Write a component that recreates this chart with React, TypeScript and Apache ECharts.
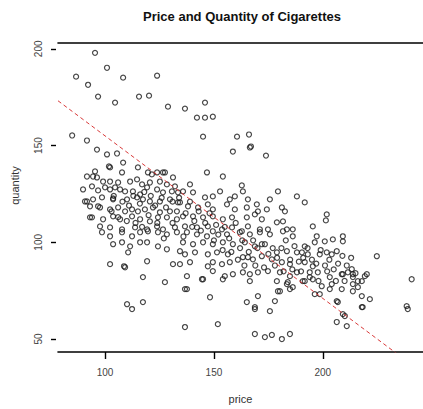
import React, { useEffect, useRef } from "react";
import * as echarts from "echarts";

const chartTitle = "Price and Quantity of Cigarettes";
const xName = "price";
const yName = "quantity";
const xTicks = [100, 150, 200];
const yTicks = [50, 100, 150, 200];
const xRange = [78.4, 246];
const yRange = [43.3, 203];
// fitted line: quantity = intercept + slope * price
const intercept = 239;
const slope = -0.84;

// [price, quantity]
const upperPoints = [
  [95.4, 197.9], [100.9, 190.2], [86.7, 185.6], [92.2, 181.4], [108.3, 185.1], [123.9, 186.1],
  [96.8, 175.3], [104.6, 172.2], [115.6, 175.3], [120.2, 175.8], [128.9, 170.1], [136.7, 169.1],
  [145.9, 172.2], [142.2, 164.4], [145.9, 164.4], [149.5, 164.9], [145.0, 154.6], [160.6, 154.6],
  [166.1, 155.7], [84.9, 155.2], [91.7, 152.6], [158.7, 146.9], [167.0, 149.5], [173.9, 144.8],
  [100.9, 145.4], [105.5, 145.9], [96.3, 147.9], [95.4, 136.6], [102.3, 138.7], [108.3, 141.2],
  [115.1, 138.7], [121.5, 135.1], [126.6, 136.1], [146.8, 136.1], [154.1, 134.0], [91.7, 134.0],
  [96.3, 133.5], [91.7, 121.1], [96.8, 118.6], [93.1, 112.9], [103.7, 122.2], [166.5, 149.0],
];

const leftCluster = [
  [101.8, 139.2], [107.8, 136.1], [119.7, 136.1], [123.9, 136.1], [127.5, 136.1], [131.2, 133.5],
  [94.5, 134.0], [99.1, 131.4], [102.3, 131.4], [106.0, 130.9], [111.5, 131.4], [114.7, 132.5],
  [117.0, 129.9], [120.6, 130.9], [125.2, 131.4], [128.4, 129.9], [132.1, 128.9],
  [89.9, 127.3], [94.0, 128.9], [96.8, 126.8], [100.0, 128.4], [102.3, 127.3], [104.6, 128.4],
  [106.9, 127.3], [109.2, 126.3], [112.8, 126.3], [116.1, 124.7], [119.3, 128.4], [123.9, 127.3],
  [126.6, 125.8], [130.7, 126.3], [133.5, 125.8],
  [90.8, 121.1], [94.5, 122.2], [98.6, 123.2], [103.7, 122.7], [110.1, 122.2], [114.7, 123.2],
  [117.4, 122.2], [120.6, 121.1], [125.2, 121.1], [129.8, 122.2], [133.5, 120.6],
  [93.1, 118.6], [97.7, 118.0], [102.3, 117.0], [106.0, 118.0], [109.2, 116.0], [112.4, 117.0],
  [115.1, 116.0], [118.3, 117.0], [122.0, 118.0], [125.2, 115.5], [129.8, 116.0], [133.0, 116.0],
  [94.0, 112.9], [99.1, 111.9], [103.7, 113.4], [106.9, 111.9], [112.4, 113.4], [116.1, 111.9],
  [120.6, 110.8], [124.3, 112.9], [128.4, 112.9], [133.0, 111.9],
  [97.7, 108.2], [102.3, 107.7], [107.8, 106.7], [113.8, 107.7], [119.3, 106.7], [123.9, 108.2],
  [126.6, 106.7], [132.1, 107.7],
  [98.6, 105.2], [102.3, 103.1], [107.8, 105.2], [112.4, 103.1], [116.1, 105.2], [119.7, 105.7],
  [124.3, 105.2], [128.4, 104.1], [133.0, 105.2],
  [103.7, 99.0], [107.8, 100.0], [111.5, 97.9], [116.1, 100.0], [119.3, 100.0], [124.3, 97.9],
  [128.4, 96.4], [134.4, 95.4], [110.6, 94.8], [119.3, 90.2], [102.3, 88.7], [109.2, 87.1],
  [131.2, 88.7], [134.4, 88.7], [117.4, 82.0], [127.5, 79.4], [110.1, 68.0], [112.4, 65.5],
  [117.4, 69.1], [108.7, 87.6],
];

const midCluster = [
  [139.0, 129.9], [162.8, 129.4], [163.3, 126.3], [179.4, 126.3], [188.1, 123.7],
  [135.8, 126.3], [140.4, 125.8], [145.9, 123.2], [149.5, 123.7], [152.8, 126.3], [157.3, 122.2],
  [159.6, 123.7], [165.6, 122.2], [169.7, 119.6], [175.7, 122.2],
  [134.4, 120.6], [138.1, 118.6], [142.7, 118.0], [147.2, 119.6], [149.5, 117.0], [156.0, 119.6],
  [159.6, 117.0], [165.1, 118.0], [170.2, 116.0], [174.3, 117.0], [181.2, 118.0], [182.6, 116.0],
  [135.8, 113.4], [140.4, 113.4], [145.0, 112.9], [149.5, 113.4], [154.1, 111.9], [158.3, 112.9],
  [165.1, 112.9], [168.8, 114.4], [172.0, 111.9],
  [136.7, 108.2], [142.2, 107.7], [147.2, 108.2], [153.7, 106.7], [158.3, 107.7], [162.8, 105.7],
  [165.6, 108.2], [171.1, 106.7], [174.8, 106.7], [178.9, 110.3], [181.7, 110.8], [183.5, 106.7],
  [186.2, 106.7],
  [137.6, 105.2], [142.2, 104.1], [146.8, 103.1], [149.5, 105.7], [156.0, 104.1], [161.9, 105.2],
  [166.5, 104.1], [171.1, 105.2], [175.7, 104.1], [181.7, 105.7], [186.2, 103.1],
  [135.8, 100.0], [140.4, 99.0], [145.0, 100.0], [149.5, 99.0], [154.1, 100.0], [158.7, 99.0],
  [164.2, 100.0], [168.8, 97.9], [173.4, 99.0], [178.9, 94.8], [183.5, 95.4], [188.1, 94.8],
  [136.7, 93.8], [141.3, 94.8], [147.2, 93.8], [151.4, 94.8], [156.4, 93.8], [163.3, 92.3],
  [165.6, 92.3], [167.9, 91.2], [172.0, 92.8], [176.6, 91.2], [181.2, 89.7], [184.9, 88.7],
  [139.0, 89.7], [147.2, 87.6], [149.5, 89.7], [153.7, 88.7], [157.3, 89.7],
  [149.5, 85.1], [155.0, 82.5], [158.7, 83.5], [163.3, 84.5], [166.5, 83.5], [170.2, 84.5],
  [174.8, 85.1], [180.3, 84.5], [184.9, 82.5], [188.1, 84.5],
  [137.6, 82.5], [144.5, 80.9], [154.1, 80.9], [166.5, 79.9], [178.9, 79.9],
  [183.9, 79.4], [184.9, 75.8], [180.3, 74.7], [136.7, 75.8], [168.8, 66.5],
];

const rightCluster = [
  [191.7, 120.6], [201.8, 114.4], [201.4, 111.3], [195.4, 108.2],
  [191.7, 97.9], [196.3, 100.0], [200.9, 100.5], [204.6, 101.5], [209.2, 103.1], [197.2, 103.1],
  [209.2, 100.5], [190.4, 94.8], [193.1, 93.8], [198.6, 93.8], [201.8, 94.8], [204.1, 93.8],
  [206.4, 95.4], [224.8, 92.8], [191.7, 89.7], [195.4, 87.6], [197.7, 84.5], [194.0, 84.5],
  [195.4, 80.9], [204.1, 78.4], [208.7, 83.5], [211.5, 84.5], [213.3, 86.1], [213.8, 82.0],
  [217.9, 79.9], [220.2, 83.5], [216.1, 76.8], [213.8, 74.7], [208.7, 75.8], [203.2, 75.8],
  [191.7, 79.9], [198.6, 73.2], [206.4, 69.6], [217.9, 66.5], [209.2, 62.9],
];

const lowerPoints = [
  [136.7, 56.2], [148.2, 71.6], [151.8, 57.7], [137.6, 75.8], [145.0, 80.9],
  [165.1, 69.1], [168.8, 65.5], [175.7, 64.4], [170.2, 72.2], [178.0, 69.6],
  [168.8, 52.6], [173.4, 51.0], [176.6, 52.1], [181.2, 50.0], [184.9, 52.6],
  [179.4, 74.7], [183.5, 78.4], [186.2, 76.8], [190.8, 79.9], [196.3, 73.2], [199.5, 77.3],
  [203.2, 82.0], [206.9, 69.1], [206.4, 58.8], [211.0, 56.7], [210.1, 61.9], [217.9, 72.2],
  [221.6, 70.6], [218.3, 66.5], [238.5, 67.0], [239.0, 65.5], [240.8, 80.9],
  [213.8, 78.4], [216.1, 79.9], [219.3, 82.5], [213.8, 83.5], [209.2, 83.5],
];

const coreExtra = [
  [104, 124], [108, 121], [111, 119], [113, 124], [116, 120], [118, 126], [121, 124], [123, 119],
  [126, 123], [128, 118], [131, 121], [134, 123], [137, 115], [139, 121], [141, 111], [143, 116],
  [146, 110], [148, 115], [151, 109], [152, 104], [155, 108], [157, 102], [160, 110], [162, 97],
  [163, 101], [166, 95], [168, 101], [170, 97], [172, 99], [175, 94], [177, 97], [179, 92],
  [181, 97], [183, 101], [185, 91], [187, 98], [189, 90], [191, 92], [193, 97], [195, 91],
  [197, 89], [199, 96], [201, 88], [203, 91], [205, 86], [207, 89], [209, 93], [211, 88],
  [213, 92], [215, 84], [103, 116], [106, 113], [110, 111], [114, 110], [117, 108], [120, 114],
  [124, 110], [127, 102], [131, 110], [136, 103], [140, 108], [144, 106], [150, 101], [154, 96],
  [158, 95], [161, 91], [164, 88], [169, 88], [173, 87], [178, 88], [182, 85], [186, 86],
  [190, 85], [194, 82], [198, 80], [202, 85], [206, 80], [210, 80],
];

const allPoints = [
  ...upperPoints, ...leftCluster, ...midCluster, ...rightCluster, ...lowerPoints, ...coreExtra,
];

const FONT = "'Liberation Sans', Arial, sans-serif";

export default function App() {
  const ref = useRef<HTMLDivElement>(null);
  useEffect(() => {
    if (!ref.current) return;
    const chart = echarts.init(ref.current, null, { renderer: "svg" });
    const lineData = [
      [xRange[0], intercept + slope * xRange[0]],
      [xRange[1], intercept + slope * xRange[1]],
    ];
    chart.setOption({
      animation: false,
      backgroundColor: "#ffffff",
      graphic: [
        {
          type: "text",
          x: 242,
          y: 16,
          style: {
            text: chartTitle,
            fontFamily: FONT,
            fontWeight: "bold",
            fontSize: 13,
            fill: "#111",
            align: "center",
            verticalAlign: "middle",
          },
        },
      ],
      grid: { left: 58, right: 0, top: 43, bottom: 56, containLabel: false },
      xAxis: [
        {
          type: "value",
          min: xRange[0],
          max: xRange[1],
          position: "bottom",
          name: xName,
          nameLocation: "middle",
          nameGap: 41,
          nameTextStyle: { fontFamily: FONT, fontSize: 11, color: "#333" },
          axisLine: { show: true, onZero: false, lineStyle: { color: "#000", width: 1.6 } },
          axisTick: { show: true, length: 7, customValues: xTicks, lineStyle: { color: "#000", width: 1.4 } },
          axisLabel: { show: true, customValues: xTicks, margin: 15, fontFamily: FONT, fontSize: 10, color: "#444" },
          splitLine: { show: false },
        },
        {
          type: "value",
          min: xRange[0],
          max: xRange[1],
          position: "top",
          axisLine: { show: true, onZero: false, lineStyle: { color: "#000", width: 1.6 } },
          axisTick: { show: false },
          axisLabel: { show: false },
          splitLine: { show: false },
        },
      ],
      yAxis: {
        type: "value",
        min: yRange[0],
        max: yRange[1],
        offset: 2,
        name: yName,
        nameLocation: "middle",
        nameGap: 36,
        nameRotate: 90,
        nameTextStyle: { fontFamily: FONT, fontSize: 11, color: "#333", padding: [0, 0, 0, 24] },
        axisLine: { show: false },
        axisTick: { show: true, length: 5, customValues: yTicks, lineStyle: { color: "#000", width: 1.4 } },
        axisLabel: { show: true, customValues: yTicks, rotate: 90, margin: 13, fontFamily: FONT, fontSize: 10, color: "#444" },
        splitLine: { show: false },
      },
      series: [
        {
          type: "scatter",
          data: allPoints,
          symbol: "circle",
          symbolSize: 5,
          itemStyle: { color: "rgba(0,0,0,0)", borderColor: "#1a1a1a", borderWidth: 1.2 },
          silent: true,
        },
        {
          type: "line",
          data: lineData,
          symbol: "none",
          clip: true,
          lineStyle: { color: "#d83a3a", width: 1, type: [4, 3] },
          silent: true,
        },
      ],
    });
    return () => chart.dispose();
  }, []);
  return (
    <div
      ref={ref}
      style={{ position: "fixed", left: 0, top: 0, width: 423, height: 409, background: "#fff" }}
    />
  );
}
